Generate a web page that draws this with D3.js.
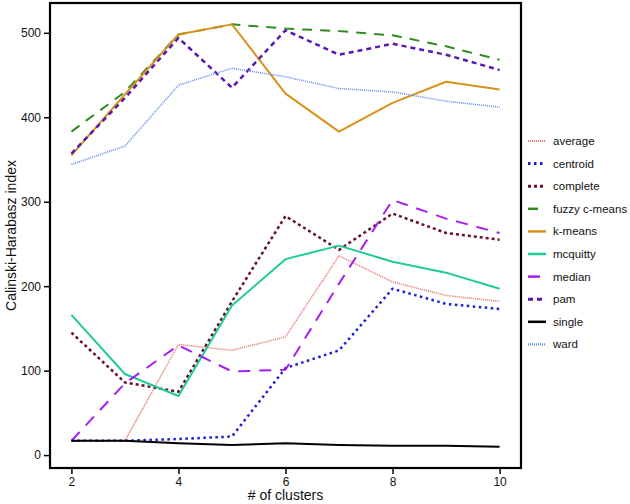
<!DOCTYPE html>
<html><head><meta charset="utf-8">
<script src="https://cdn.jsdelivr.net/npm/d3@7"></script>
<style>
body{margin:0;background:#fff;}
svg text{font-family:"Liberation Sans",Arial,sans-serif;}
</style></head>
<body><svg id="c" width="630" height="504"></svg>
<script>
const clusters = [2,3,4,5,6,7,8,9,10];
const methods = ["average","centroid","complete","fuzzy c-means","k-means","mcquitty","median","pam","single","ward"];
const average   = [17,17,131,124,140,236,205,189,182];
const centroid  = [17,17,19,22,103,124,197,179,173];
const complete  = [145,86,75,182,283,243,286,263,255];
const fuzzy     = [383,430,498,510,505,502,497,484,468];
const kmeans    = [355,427,498,510,428,383,417,442,433];
const mcquitty  = [166,96,70,177,232,248,229,216,197];
const median    = [17,85,130,99,101,203,302,280,263];
const pam       = [357,423,494,435,503,474,487,474,456];
const single    = [17,17,14,12,14,12,11,11,10];
const ward      = [344,366,438,458,448,434,430,419,412];
const yTicks = [0,100,200,300,400,500];
const xTicks = [2,4,6,8,10];
const seriesValues = [average,centroid,complete,fuzzy,kmeans,mcquitty,median,pam,single,ward];

const styles = {
  "average":      {color:"#e8726e", w:1.6, dash:"1,1"},
  "centroid":     {color:"#1c1cd8", w:2.5, dash:"2.5,3.5"},
  "complete":     {color:"#6a0f2c", w:2.5, dash:"3,3"},
  "fuzzy c-means":{color:"#2f8c1f", w:2,   dash:"10,8"},
  "k-means":      {color:"#d8921a", w:2,   dash:null},
  "mcquitty":     {color:"#1fcb98", w:2,   dash:null},
  "median":       {color:"#a61ff0", w:2,   dash:"12,9"},
  "pam":          {color:"#5b17b2", w:2.5, dash:"5,4"},
  "single":       {color:"#000000", w:2,   dash:null},
  "ward":         {color:"#5e8ff0", w:1.6, dash:"1,1"}
};

const svg = d3.select("#c");
const L=50, R=521, T=3, B=468;
const x = d3.scaleLinear().domain([1.6,10.4]).range([L,R]);
const y = d3.scaleLinear().domain([-15.3,535.3]).range([B,T]);

svg.append("rect").attr("x",L).attr("y",T).attr("width",R-L).attr("height",B-T)
  .attr("fill","none").attr("stroke","#000").attr("stroke-width",2.2);

const line = d3.line().x((d,i)=>x(clusters[i])).y(d=>y(d));
methods.forEach((m,k)=>{
  const s=styles[m];
  svg.append("path").datum(seriesValues[k]).attr("d",line)
    .attr("fill","none").attr("stroke",s.color).attr("stroke-width",s.w)
    .attr("stroke-dasharray",s.dash).attr("stroke-linejoin","round");
});

const yAxis = d3.axisLeft(y).tickValues(yTicks).tickSize(5).tickPadding(3);
const gy = svg.append("g").attr("transform",`translate(${L-1},0)`).call(yAxis);
gy.select(".domain").remove();
gy.selectAll("line").attr("stroke","#000").attr("stroke-width",1.5);
gy.selectAll("text").attr("font-size",12).attr("fill","#111");

const xAxis = d3.axisBottom(x).tickValues(xTicks).tickSize(5).tickPadding(3);
const gx = svg.append("g").attr("transform",`translate(0,${B+1})`).call(xAxis);
gx.select(".domain").remove();
gx.selectAll("line").attr("stroke","#000").attr("stroke-width",1.5);
gx.selectAll("text").attr("font-size",12).attr("fill","#111");

svg.append("text").attr("x",(L+R)/2).attr("y",500).attr("text-anchor","middle")
  .attr("font-size",14).attr("fill","#111").text("# of clusters");
svg.append("text").attr("transform",`translate(16,${(T+B)/2}) rotate(-90)`)
  .attr("text-anchor","middle").attr("font-size",14).attr("fill","#111").text("Calinski-Harabasz index");

const lg = svg.append("g");
methods.forEach((m,k)=>{
  const s=styles[m];
  const yy = 141 + k*22.6;
  lg.append("line").attr("x1",528).attr("x2",546).attr("y1",yy).attr("y2",yy)
    .attr("stroke",s.color).attr("stroke-width",s.w+0.5).attr("stroke-dasharray",s.dash);
  lg.append("text").attr("x",553).attr("y",yy+4).attr("font-size",11.5).attr("fill","#111").text(m);
});
</script></body></html>
